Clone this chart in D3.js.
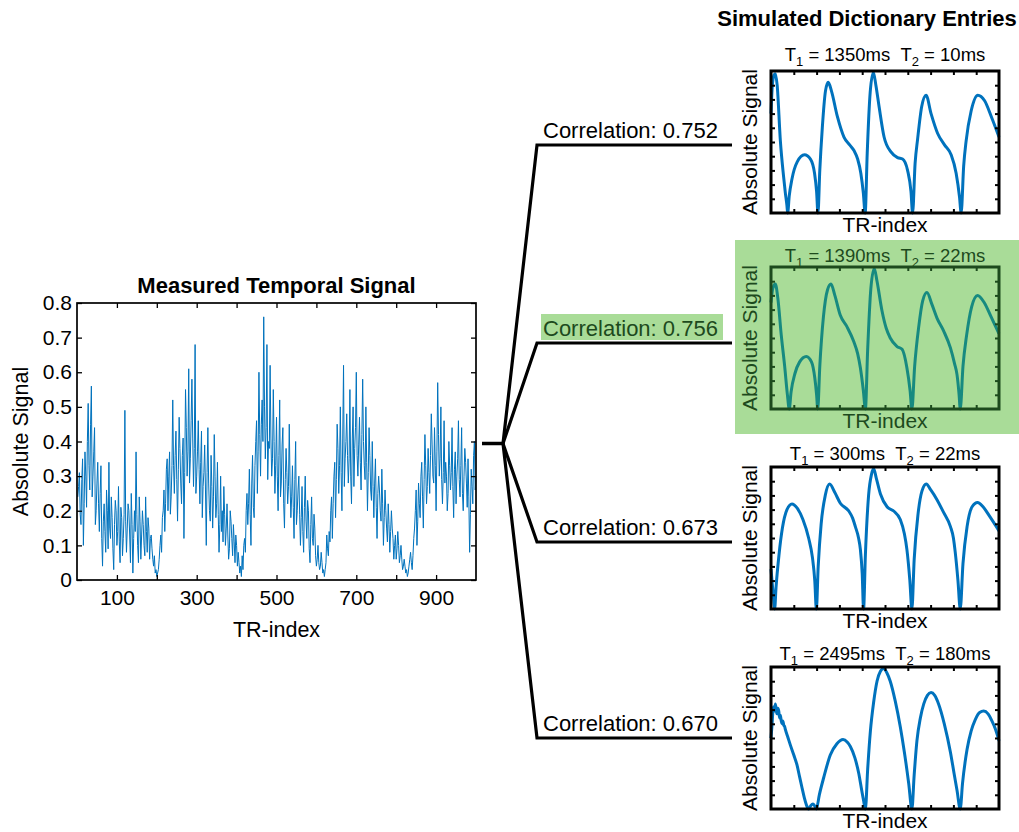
<!DOCTYPE html>
<html>
<head>
<meta charset="utf-8">
<script src="https://cdn.jsdelivr.net/npm/d3@7"></script>
<style>
  body { margin: 0; background: #fff; }
  svg { display: block; }
  text { font-family: "Liberation Sans", Arial, Helvetica, sans-serif; fill: #000; }
</style>
</head>
<body>
<svg id="fig" width="1019" height="832"></svg>
<script>
// ---------- data ----------
// measured fingerprint, one sample every 2 TRs (TR 2 ... 1000)
const measuredStep = 2;
const measuredSignal = [
  0.24,0.27,0.31,0.19,0.16,0.29,0.35,0.10,0.22,0.37,0.30,0.21,0.40,0.51,0.33,0.26,0.45,0.56,0.24,0.30,
  0.37,0.44,0.16,0.20,0.28,0.34,0.22,0.14,0.25,0.33,0.12,0.04,0.17,0.22,0.14,0.08,0.26,0.20,0.09,0.34,
  0.15,0.12,0.24,0.18,0.09,0.03,0.16,0.23,0.20,0.10,0.14,0.27,0.11,0.05,0.21,0.18,0.07,0.12,0.19,0.49,
  0.17,0.08,0.15,0.22,0.20,0.13,0.05,0.25,0.16,0.02,0.12,0.20,0.14,0.37,0.19,0.10,0.05,0.24,0.17,0.06,
  0.13,0.20,0.16,0.10,0.07,0.24,0.14,0.08,0.18,0.15,0.06,0.12,0.13,0.09,0.06,0.04,0.07,0.02,0.03,0.01,
  0.02,0.03,0.06,0.10,0.13,0.08,0.18,0.20,0.26,0.14,0.22,0.32,0.35,0.20,0.30,0.37,0.19,0.24,0.33,0.52,
  0.33,0.25,0.36,0.43,0.29,0.17,0.32,0.47,0.38,0.28,0.22,0.36,0.41,0.12,0.31,0.55,0.44,0.30,0.37,0.61,
  0.28,0.35,0.46,0.58,0.41,0.27,0.38,0.68,0.25,0.30,0.37,0.46,0.32,0.22,0.34,0.43,0.18,0.27,0.31,0.39,
  0.26,0.10,0.31,0.44,0.28,0.20,0.17,0.36,0.27,0.15,0.24,0.42,0.30,0.18,0.22,0.34,0.19,0.08,0.16,0.30,
  0.14,0.20,0.11,0.27,0.19,0.10,0.15,0.22,0.13,0.06,0.09,0.20,0.17,0.12,0.07,0.16,0.11,0.05,0.13,0.10,
  0.04,0.08,0.05,0.02,0.04,0.01,0.07,0.03,0.10,0.12,0.08,0.20,0.25,0.16,0.22,0.32,0.19,0.10,0.28,0.36,
  0.21,0.18,0.33,0.40,0.46,0.25,0.37,0.60,0.42,0.30,0.45,0.52,0.40,0.76,0.50,0.35,0.44,0.68,0.29,0.40,
  0.38,0.62,0.41,0.30,0.35,0.55,0.40,0.25,0.33,0.47,0.30,0.20,0.36,0.52,0.24,0.28,0.39,0.44,0.22,0.15,
  0.29,0.38,0.31,0.22,0.27,0.45,0.28,0.18,0.24,0.33,0.21,0.12,0.29,0.40,0.16,0.20,0.26,0.30,0.19,0.10,
  0.18,0.27,0.14,0.08,0.21,0.30,0.17,0.12,0.23,0.20,0.09,0.05,0.16,0.24,0.12,0.10,0.19,0.15,0.07,0.04,
  0.06,0.10,0.05,0.03,0.04,0.08,0.05,0.02,0.03,0.01,0.03,0.05,0.13,0.09,0.07,0.14,0.11,0.20,0.24,0.12,
  0.22,0.30,0.34,0.18,0.29,0.45,0.38,0.25,0.33,0.50,0.31,0.20,0.41,0.62,0.27,0.35,0.40,0.48,0.36,0.28,
  0.35,0.55,0.30,0.22,0.41,0.50,0.27,0.38,0.44,0.60,0.36,0.30,0.39,0.47,0.34,0.26,0.42,0.58,0.40,0.33,
  0.29,0.50,0.34,0.20,0.31,0.44,0.36,0.26,0.23,0.40,0.27,0.18,0.28,0.35,0.21,0.12,0.25,0.30,0.26,0.20,
  0.17,0.32,0.22,0.10,0.18,0.26,0.20,0.15,0.11,0.22,0.16,0.08,0.14,0.20,0.15,0.12,0.06,0.10,0.13,0.06,
  0.09,0.14,0.10,0.05,0.07,0.10,0.06,0.03,0.04,0.06,0.04,0.02,0.03,0.01,0.02,0.04,0.06,0.08,0.05,0.03,
  0.07,0.12,0.15,0.20,0.26,0.10,0.17,0.28,0.22,0.18,0.30,0.34,0.24,0.15,0.29,0.42,0.33,0.22,0.27,0.38,
  0.31,0.25,0.36,0.48,0.39,0.30,0.28,0.44,0.33,0.20,0.37,0.57,0.42,0.30,0.35,0.50,0.29,0.22,0.31,0.46,
  0.28,0.34,0.30,0.20,0.25,0.40,0.33,0.26,0.31,0.44,0.27,0.18,0.32,0.37,0.22,0.30,0.35,0.46,0.29,0.24,
  0.33,0.44,0.25,0.20,0.30,0.38,0.34,0.28,0.21,0.35,0.24,0.08,0.19,0.32,0.27,0.22,0.36,0.40,0.26,0.30
];
const mainXTicks = [100,200,300,400,500,600,700,800,900];
const mainXTickLabels = [100,300,500,700,900];
const mainYTicks = [0,0.1,0.2,0.3,0.4,0.5,0.6,0.7,0.8];

// dictionary entries (T1, T2 in ms) and their correlation with the measurement
const dictT1 = [1350, 1390, 300, 2495];
const dictT2 = [10, 22, 22, 180];
const correlations = [0.752, 0.756, 0.673, 0.670];
const bestMatch = 1;

// simulated fingerprints as [TR, normalised |signal|]
const entryT1350T2010 = [
  [0,0.70],[6,0.90],[13,0.97],[19,0.98],[27,0.90],[41,0.51],[55,0.26],[63,0.14],[70,0.05],[73,0],
  [80,0.12],[92,0.24],[115,0.36],[147,0.41],[173,0.38],[191,0.28],[200,0.15],[206,0],
  [214,0.30],[225,0.60],[239,0.86],[251,0.92],[265,0.86],[291,0.68],[320,0.535],[345,0.48],
  [364,0.44],[380,0.38],[394,0.28],[405,0.14],[413,0],
  [422,0.42],[435,0.85],[449,0.99],[460,0.90],[474,0.75],[496,0.535],[526,0.43],[555,0.39],
  [577,0.38],[599,0.30],[614,0.15],[621,0],
  [632,0.35],[643,0.52],[661,0.75],[680,0.83],[702,0.70],[731,0.56],[761,0.48],[790,0.41],
  [812,0.28],[827,0.11],[834,0],
  [845,0.33],[856,0.51],[878,0.72],[907,0.83],[937,0.79],[966,0.68],[1000,0.535]
];
const entryT1390T2022 = [
  [0,0.75],[8,0.85],[19,0.88],[30,0.78],[45,0.52],[60,0.30],[72,0.10],[80,0],
  [88,0.12],[105,0.25],[125,0.33],[155,0.37],[178,0.33],[192,0.22],[200,0.10],[205,0],
  [214,0.30],[230,0.65],[248,0.84],[263,0.88],[280,0.80],[304,0.66],[333,0.58],[363,0.475],
  [380,0.39],[392,0.29],[405,0.13],[414,0],
  [424,0.42],[438,0.85],[453,0.99],[465,0.90],[487,0.69],[505,0.57],[523,0.50],[553,0.44],
  [575,0.42],[596,0.29],[610,0.13],[618,0],
  [630,0.30],[648,0.58],[665,0.76],[684,0.82],[705,0.74],[728,0.64],[757,0.55],[787,0.43],
  [805,0.32],[816,0.24],[825,0.10],[830,0],
  [842,0.30],[858,0.52],[880,0.72],[906,0.80],[935,0.75],[965,0.65],[1000,0.53]
];
const entryT0300T2022 = [
  [0,0.28],[6,0.17],[12,0.06],[16,0],
  [22,0.15],[35,0.38],[50,0.57],[70,0.70],[92,0.74],[115,0.71],[140,0.63],[165,0.50],
  [182,0.36],[192,0.20],[199,0],
  [207,0.30],[220,0.60],[238,0.80],[257,0.88],[280,0.82],[304,0.745],[341,0.69],[358,0.64],
  [370,0.58],[384,0.50],[392,0.42],[400,0.25],[406,0],
  [414,0.38],[428,0.80],[441,0.95],[450,0.99],[462,0.92],[480,0.81],[509,0.72],[538,0.69],
  [567,0.63],[585,0.53],[596,0.42],[609,0.20],[618,0],
  [628,0.35],[645,0.67],[662,0.83],[681,0.88],[700,0.84],[728,0.77],[757,0.68],[787,0.58],
  [800,0.50],[808,0.40],[820,0.20],[830,0],
  [842,0.32],[860,0.58],[882,0.72],[906,0.75],[930,0.72],[960,0.65],[1000,0.55]
];
const entryT2495T2180 = [
  [0,0.50],[4,0.58],[9,0.70],[12,0.72],[16,0.69],[19,0.74],[23,0.70],[26,0.67],[30,0.71],
  [34,0.69],[38,0.64],[41,0.66],[45,0.62],[48,0.60],[52,0.62],[56,0.59],[60,0.58],[63,0.56],
  [75,0.50],[85,0.45],[100,0.38],[114,0.31],[125,0.23],[136,0.15],[146,0.08],[155,0.03],[165,0],
  [175,0.025],[184,0.035],[192,0.02],[199,0],
  [212,0.10],[231,0.22],[260,0.38],[289,0.46],[316,0.49],[335,0.47],[348,0.44],[368,0.36],
  [385,0.25],[398,0.13],[406,0.06],[414,0],
  [424,0.28],[436,0.55],[450,0.75],[465,0.90],[480,0.97],[494,0.99],[508,0.96],[523,0.90],
  [545,0.76],[567,0.58],[585,0.40],[604,0.18],[618,0],
  [628,0.24],[640,0.48],[655,0.64],[670,0.74],[686,0.80],[702,0.82],[718,0.80],[735,0.74],
  [760,0.60],[787,0.40],[803,0.25],[816,0.13],[830,0],
  [840,0.18],[860,0.42],[878,0.55],[896,0.63],[915,0.68],[933,0.69],[952,0.67],[969,0.62],
  [985,0.56],[1000,0.48]
];
const dictEntries = [entryT1350T2010, entryT1390T2022, entryT0300T2022, entryT2495T2180];
const dictXTicks = [100,200,300,400,500,600,700,800,900];
const dictYTicks = [0.1,0.2,0.3,0.4,0.5,0.6,0.7,0.8,0.9];

// ---------- styling / layout ----------
const BLUE = "#0072BD";
const HILITE_BG = "#a9dc98";
const HILITE_FG = "#1d4a1d";
const HILITE_LINE = "#178a80";

const svg = d3.select("#fig");

// ---------- measured temporal signal ----------
const main = { left: 77, right: 476, top: 303, bottom: 580 };
const mx = d3.scaleLinear().domain([0, 1000]).range([main.left, main.right]);
const my = d3.scaleLinear().domain([0, 0.8]).range([main.bottom, main.top]);

const gMain = svg.append("g");

gMain.append("path")
  .datum(measuredSignal)
  .attr("fill", "none")
  .attr("stroke", BLUE)
  .attr("stroke-width", 1)
  .attr("stroke-linejoin", "round")
  .attr("d", d3.line()
    .x((d, i) => mx((i + 1) * measuredStep))
    .y(d => my(d)));

function styleAxis(sel, size) {
  sel.select(".domain").remove();
  sel.selectAll(".tick line").attr("stroke", "#000").attr("stroke-width", 1.3);
  sel.selectAll(".tick text").attr("font-size", size).attr("fill", "#000")
    .attr("font-family", '"Liberation Sans", Arial, sans-serif');
}

const fmtX = d => mainXTickLabels.includes(d) ? String(d) : "";
gMain.append("g").attr("transform", `translate(0,${main.bottom})`)
  .call(d3.axisBottom(mx).tickValues(mainXTicks).tickFormat(fmtX).tickSizeInner(-5).tickSizeOuter(0).tickPadding(10))
  .call(s => styleAxis(s, 21));
gMain.append("g").attr("transform", `translate(0,${main.top})`)
  .call(d3.axisTop(mx).tickValues(mainXTicks).tickFormat("").tickSizeInner(-5).tickSizeOuter(0))
  .call(s => styleAxis(s, 21));
gMain.append("g").attr("transform", `translate(${main.left},0)`)
  .call(d3.axisLeft(my).tickValues(mainYTicks).tickFormat(d => d === 0 ? "0" : d3.format(".1f")(d)).tickSizeInner(-5).tickSizeOuter(0).tickPadding(5))
  .call(s => styleAxis(s, 21));
gMain.append("g").attr("transform", `translate(${main.right},0)`)
  .call(d3.axisRight(my).tickValues(mainYTicks).tickFormat("").tickSizeInner(-5).tickSizeOuter(0))
  .call(s => styleAxis(s, 21));

gMain.append("rect")
  .attr("x", main.left).attr("y", main.top)
  .attr("width", main.right - main.left).attr("height", main.bottom - main.top)
  .attr("fill", "none").attr("stroke", "#000").attr("stroke-width", 1.7);

gMain.append("text")
  .attr("x", (main.left + main.right) / 2).attr("y", 293)
  .attr("text-anchor", "middle").attr("font-size", 22).attr("font-weight", "bold")
  .text("Measured Temporal Signal");
gMain.append("text")
  .attr("x", (main.left + main.right) / 2).attr("y", 637)
  .attr("text-anchor", "middle").attr("font-size", 21.5)
  .text("TR-index");
gMain.append("text")
  .attr("transform", `translate(28,${(main.top + main.bottom) / 2}) rotate(-90)`)
  .attr("text-anchor", "middle").attr("font-size", 21.5)
  .text("Absolute Signal");

// ---------- connectors ----------
const stem = { x0: 482, x1: 503, y: 443.5 };
const branchX = 537;
const branchEnd = 732;
const branchY = [145, 343, 542, 738];

const gConn = svg.append("g");
gConn.append("line")
  .attr("x1", stem.x0).attr("x2", stem.x1 + 1).attr("y1", stem.y).attr("y2", stem.y)
  .attr("stroke", "#000").attr("stroke-width", 3.5);

correlations.forEach((c, i) => {
  const y = branchY[i];
  const hi = i === bestMatch;
  if (hi) {
    gConn.append("rect")
      .attr("x", 541).attr("y", y - 29).attr("width", 182).attr("height", 26)
      .attr("fill", HILITE_BG);
  }
  gConn.append("path")
    .attr("d", `M${stem.x1},${stem.y} L${branchX},${y} L${branchEnd},${y}`)
    .attr("fill", "none").attr("stroke", "#000").attr("stroke-width", 3.2)
    .attr("stroke-linejoin", "miter");
  gConn.append("text")
    .attr("x", 543).attr("y", y - 7.5)
    .attr("font-size", 22)
    .style("fill", hi ? HILITE_FG : "#000")
    .text("Correlation: " + c.toFixed(3));
});

// ---------- dictionary panels ----------
svg.append("text")
  .attr("x", 867).attr("y", 26)
  .attr("text-anchor", "middle").attr("font-size", 22).attr("font-weight", "bold")
  .text("Simulated Dictionary Entries");

const panel = { left: 771, right: 999, height: 142 };
const panelTop = [71, 267, 467, 667];
const titleBaseline = [60.5, 261.5, 460, 659.5];

dictEntries.forEach((entry, i) => {
  const hi = i === bestMatch;
  const fg = hi ? HILITE_FG : "#000";
  const lineColor = hi ? HILITE_LINE : BLUE;
  const top = panelTop[i], bottom = top + panel.height;
  const g = svg.append("g");

  if (hi) {
    g.append("rect").attr("x", 735).attr("y", 240).attr("width", 284).attr("height", 194)
      .attr("fill", HILITE_BG);
  }

  const x = d3.scaleLinear().domain([0, 1000]).range([panel.left, panel.right]);
  const y = d3.scaleLinear().domain([0, 1]).range([bottom, top]);

  g.append("path")
    .datum(entry)
    .attr("fill", "none").attr("stroke", lineColor).attr("stroke-width", 3)
    .attr("stroke-linejoin", "round")
    .attr("d", d3.line().x(d => x(d[0])).y(d => y(d[1])).curve(d3.curveMonotoneX));

  const tickStyle = s => {
    s.select(".domain").remove();
    s.selectAll(".tick line").attr("stroke", fg).attr("stroke-width", 2);
  };
  g.append("g").attr("transform", `translate(0,${bottom})`)
    .call(d3.axisBottom(x).tickValues(dictXTicks).tickFormat("").tickSizeInner(-4).tickSizeOuter(0)).call(tickStyle);
  g.append("g").attr("transform", `translate(0,${top})`)
    .call(d3.axisTop(x).tickValues(dictXTicks).tickFormat("").tickSizeInner(-4).tickSizeOuter(0)).call(tickStyle);
  g.append("g").attr("transform", `translate(${panel.left},0)`)
    .call(d3.axisLeft(y).tickValues(dictYTicks).tickFormat("").tickSizeInner(-4).tickSizeOuter(0)).call(tickStyle);
  g.append("g").attr("transform", `translate(${panel.right},0)`)
    .call(d3.axisRight(y).tickValues(dictYTicks).tickFormat("").tickSizeInner(-4).tickSizeOuter(0)).call(tickStyle);

  g.append("rect")
    .attr("x", panel.left).attr("y", top)
    .attr("width", panel.right - panel.left).attr("height", panel.height)
    .attr("fill", "none").attr("stroke", fg).attr("stroke-width", 3);

  // title with subscripted relaxation times
  const t = g.append("text")
    .attr("x", (panel.left + panel.right) / 2).attr("y", titleBaseline[i])
    .attr("text-anchor", "middle").attr("font-size", 18.5)
    .style("fill", fg);
  t.append("tspan").text("T");
  t.append("tspan").attr("font-size", 13).attr("dy", 5).text("1");
  t.append("tspan").attr("dy", -5).text(" = " + dictT1[i] + "ms\u00a0\u00a0T");
  t.append("tspan").attr("font-size", 13).attr("dy", 5).text("2");
  t.append("tspan").attr("dy", -5).text(" = " + dictT2[i] + "ms");

  g.append("text")
    .attr("x", (panel.left + panel.right) / 2).attr("y", bottom + 19)
    .attr("text-anchor", "middle").attr("font-size", 21)
    .style("fill", fg)
    .text("TR-index");
  g.append("text")
    .attr("transform", `translate(757,${(top + bottom) / 2}) rotate(-90)`)
    .attr("text-anchor", "middle").attr("font-size", 21)
    .style("fill", fg)
    .text("Absolute Signal");
});
</script>
</body>
</html>
